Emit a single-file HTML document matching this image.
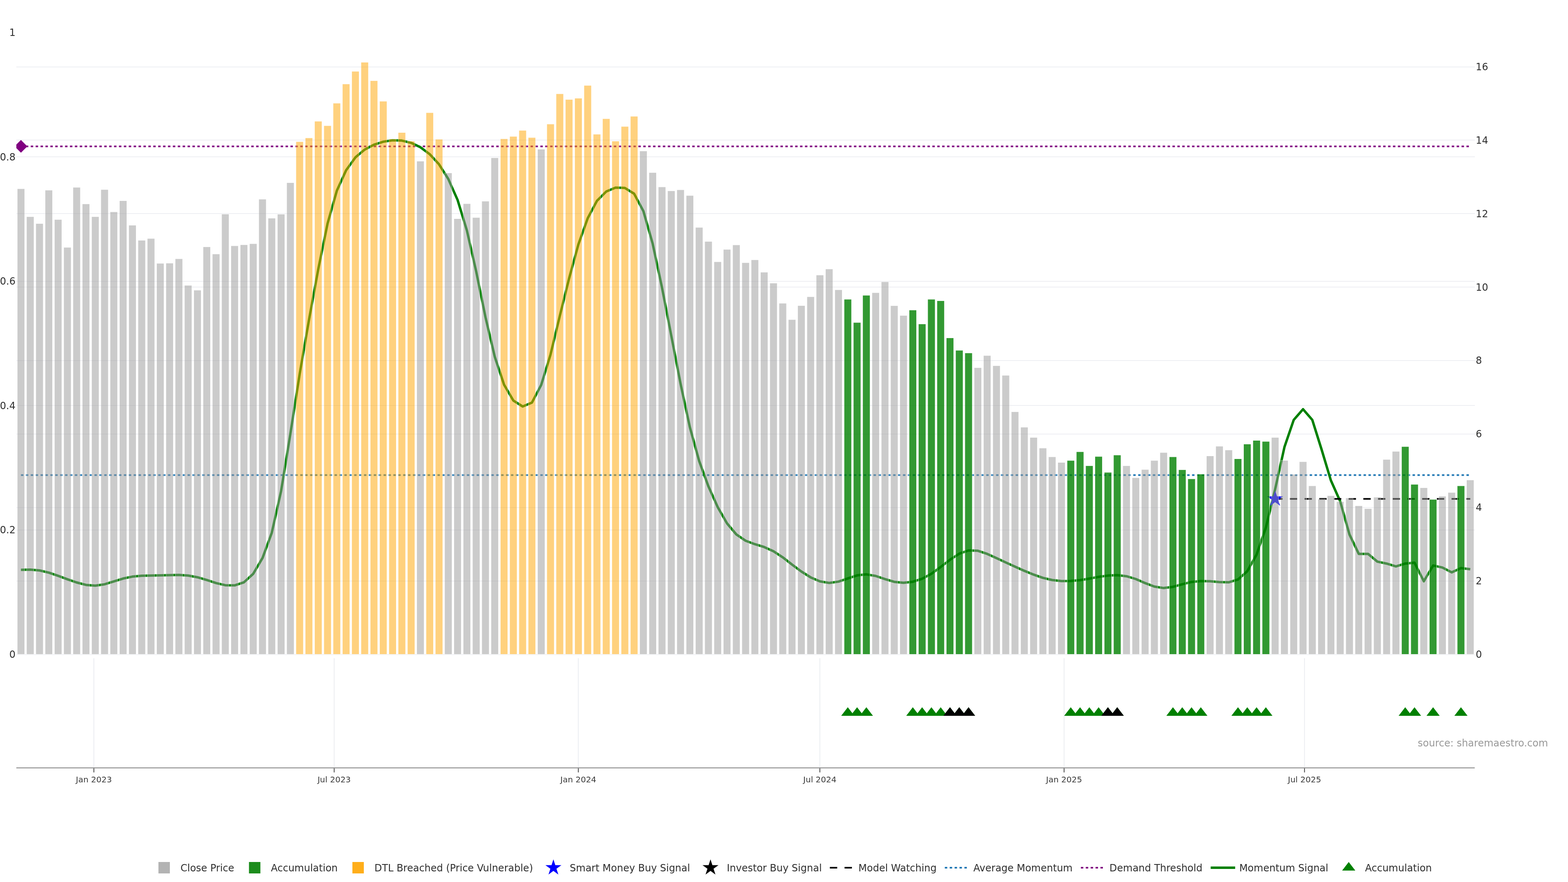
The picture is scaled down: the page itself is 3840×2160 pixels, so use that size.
<!DOCTYPE html>
<html lang="en"><head><meta charset="utf-8"><title>Momentum chart</title>
<style>html,body{margin:0;padding:0;background:#fff;}svg{display:block;width:3840px;height:2160px;}text{font-family:'DejaVu Sans','Liberation Sans',sans-serif;}</style></head><body>
<svg width="3840" height="2160" viewBox="0 0 3840 2160">
<rect width="3840" height="2160" fill="#fff"/>
<defs><clipPath id="cp"><rect x="40.0" y="70" width="3571.6" height="1534.0"/></clipPath></defs>
<g stroke="#eeeff3" stroke-width="2" fill="none" shape-rendering="crispEdges">
<path d="M40.0,1298H3611.6"/>
<path d="M40.0,993H3611.6"/>
<path d="M40.0,689H3611.6"/>
<path d="M40.0,384H3611.6"/>
<path d="M40.0,1423H3611.6"/>
<path d="M40.0,1243H3611.6"/>
<path d="M40.0,1063H3611.6"/>
<path d="M40.0,883H3611.6"/>
<path d="M40.0,703H3611.6"/>
<path d="M40.0,523H3611.6"/>
<path d="M40.0,343H3611.6"/>
<path d="M40.0,164H3611.6"/>
</g>
<path d="M40.0,1603.2H3611.6" stroke="#f1f2f6" stroke-width="2"/>
<g stroke="#ebedf1" stroke-width="2">
<path d="M229.9,1612.0V1880.6"/>
<path d="M818.4,1612.0V1880.6"/>
<path d="M1416.3,1612.0V1880.6"/>
<path d="M2007.8,1612.0V1880.6"/>
<path d="M2605.9,1612.0V1880.6"/>
<path d="M3194.7,1612.0V1880.6"/>
</g>
<g clip-path="url(#cp)" fill="none">
<path d="M51.3,1163.6H3600.6" stroke="#1f77b4" stroke-width="4" stroke-dasharray="6,6"/>
<path d="M51.3,358.4H3600.6" stroke="#800080" stroke-width="4" stroke-dasharray="6,6"/>
<polyline points="51.3,1395.4 74.1,1394.9 96.8,1397.0 119.6,1402.4 142.3,1410.2 165.1,1418.6 187.8,1426.5 210.6,1432.4 233.3,1434.3 256.1,1430.9 278.8,1423.9 301.6,1416.8 324.3,1412.1 347.1,1410.1 369.8,1409.6 392.6,1409.1 415.3,1408.4 438.1,1408.1 460.8,1409.5 483.6,1413.7 506.3,1420.3 529.1,1427.8 551.8,1433.2 574.6,1433.6 597.3,1426.1 620.1,1405.3 642.9,1366.6 665.6,1304.7 688.4,1202.6 711.1,1062.4 733.9,915.9 756.6,783.9 779.4,659.2 802.1,547.8 824.9,467.1 847.6,417.0 870.4,385.4 893.1,366.3 915.9,354.3 938.6,347.1 961.4,343.5 984.1,344.3 1006.9,349.8 1029.6,360.6 1052.4,377.6 1075.1,402.3 1097.9,438.4 1120.6,489.6 1143.4,564.4 1166.1,664.3 1188.9,776.6 1211.7,873.7 1234.4,942.0 1257.2,981.0 1279.9,995.4 1302.7,985.9 1325.4,942.6 1348.2,868.3 1370.9,773.9 1393.7,681.9 1416.4,598.7 1439.2,534.7 1461.9,491.9 1484.7,469.0 1507.4,459.6 1530.2,460.2 1552.9,474.4 1575.7,517.1 1598.4,596.8 1621.2,704.1 1643.9,821.7 1666.7,939.9 1689.4,1045.9 1712.2,1128.9 1734.9,1191.1 1757.7,1241.9 1780.5,1281.8 1803.2,1308.8 1826.0,1324.2 1848.7,1332.7 1871.5,1339.7 1894.2,1349.9 1917.0,1364.9 1939.7,1382.7 1962.5,1399.6 1985.2,1413.9 2008.0,1423.7 2030.7,1427.6 2053.5,1424.4 2076.2,1416.7 2099.0,1409.1 2121.7,1406.6 2144.5,1410.5 2167.2,1418.1 2190.0,1424.9 2212.7,1427.2 2235.5,1424.7 2258.2,1417.3 2281.0,1405.1 2303.7,1388.5 2326.5,1370.8 2349.3,1355.9 2372.0,1348.0 2394.8,1348.8 2417.5,1356.4 2440.3,1366.7 2463.0,1377.4 2485.8,1387.7 2508.5,1397.9 2531.3,1407.2 2554.0,1415.2 2576.8,1420.5 2599.5,1423.0 2622.3,1422.8 2645.0,1420.7 2667.8,1417.0 2690.5,1412.8 2713.3,1409.6 2736.0,1408.6 2758.8,1411.2 2781.5,1418.0 2804.3,1427.9 2827.0,1436.5 2849.8,1440.1 2872.5,1437.2 2895.3,1430.8 2918.1,1425.2 2940.8,1423.0 2963.6,1423.4 2986.3,1425.6 3009.1,1426.1 3031.8,1419.2 3054.6,1398.8 3077.3,1358.3 3100.1,1292.1 3122.8,1198.0 3145.6,1094.8 3168.3,1028.4 3191.1,1002.1 3213.8,1028.4 3236.6,1101.0 3259.3,1176.5 3282.1,1227.8 3304.8,1308.9 3327.6,1356.4 3350.3,1356.4 3373.1,1375.4 3395.8,1380.2 3418.6,1387.1 3441.3,1380.2 3464.1,1377.9 3486.9,1423.5 3509.6,1384.9 3532.4,1389.9 3555.1,1401.7 3577.9,1391.3 3600.6,1394.1" stroke="#008000" stroke-width="6" stroke-linejoin="round"/>
<path d="M66.9,358.4l-15.6,15.6l-15.6,-15.6l15.6,-15.6Z" fill="#800080"/>
<path d="M3122.8,1221.8H3600.6" stroke="#000" stroke-width="4" stroke-dasharray="18,18"/>
<path d="M3127.45,1215.45L3142.37,1215.45L3130.28,1224.23L3134.91,1238.43L3122.82,1229.65L3110.73,1238.43L3115.36,1224.23L3103.27,1215.45L3118.19,1215.45L3122.82,1201.24Z" fill="#0000ff"/>
</g>
<g fill="#999999" stroke="#fff" stroke-width="1" opacity="0.5">
<rect x="42.20" y="462.1" width="18.2" height="1140.4"/>
<rect x="64.95" y="530.6" width="18.2" height="1071.9"/>
<rect x="87.70" y="547.4" width="18.2" height="1055.1"/>
<rect x="110.46" y="465.7" width="18.2" height="1136.8"/>
<rect x="133.21" y="537.6" width="18.2" height="1064.9"/>
<rect x="155.96" y="605.8" width="18.2" height="996.7"/>
<rect x="178.71" y="458.8" width="18.2" height="1143.7"/>
<rect x="201.46" y="499.3" width="18.2" height="1103.2"/>
<rect x="224.22" y="530.6" width="18.2" height="1071.9"/>
<rect x="246.97" y="464.1" width="18.2" height="1138.4"/>
<rect x="269.72" y="518.8" width="18.2" height="1083.7"/>
<rect x="292.47" y="491.5" width="18.2" height="1111.0"/>
<rect x="315.22" y="551.5" width="18.2" height="1051.0"/>
<rect x="337.98" y="588.4" width="18.2" height="1014.1"/>
<rect x="360.73" y="584.0" width="18.2" height="1018.5"/>
<rect x="383.48" y="644.9" width="18.2" height="957.6"/>
<rect x="406.23" y="644.3" width="18.2" height="958.2"/>
<rect x="428.98" y="633.7" width="18.2" height="968.8"/>
<rect x="451.74" y="698.8" width="18.2" height="903.7"/>
<rect x="474.49" y="710.6" width="18.2" height="891.9"/>
<rect x="497.24" y="604.4" width="18.2" height="998.1"/>
<rect x="519.99" y="622.0" width="18.2" height="980.5"/>
<rect x="542.74" y="524.2" width="18.2" height="1078.3"/>
<rect x="565.50" y="601.9" width="18.2" height="1000.6"/>
<rect x="588.25" y="599.3" width="18.2" height="1003.2"/>
<rect x="611.00" y="596.8" width="18.2" height="1005.7"/>
<rect x="633.75" y="487.8" width="18.2" height="1114.7"/>
<rect x="656.50" y="534.2" width="18.2" height="1068.3"/>
<rect x="679.26" y="524.5" width="18.2" height="1078.0"/>
<rect x="702.01" y="447.3" width="18.2" height="1155.2"/>
<rect x="1020.54" y="394.7" width="18.2" height="1207.8"/>
<rect x="1088.79" y="423.5" width="18.2" height="1179.0"/>
<rect x="1111.54" y="535.5" width="18.2" height="1067.0"/>
<rect x="1134.30" y="498.8" width="18.2" height="1103.7"/>
<rect x="1157.05" y="532.7" width="18.2" height="1069.8"/>
<rect x="1179.80" y="492.7" width="18.2" height="1109.8"/>
<rect x="1202.55" y="386.3" width="18.2" height="1216.2"/>
<rect x="1316.31" y="365.3" width="18.2" height="1237.2"/>
<rect x="1566.58" y="369.8" width="18.2" height="1232.7"/>
<rect x="1589.34" y="422.6" width="18.2" height="1179.9"/>
<rect x="1612.09" y="457.8" width="18.2" height="1144.7"/>
<rect x="1634.84" y="467.3" width="18.2" height="1135.2"/>
<rect x="1657.59" y="464.8" width="18.2" height="1137.7"/>
<rect x="1680.34" y="478.8" width="18.2" height="1123.7"/>
<rect x="1703.10" y="556.9" width="18.2" height="1045.6"/>
<rect x="1725.85" y="591.2" width="18.2" height="1011.3"/>
<rect x="1748.60" y="641.0" width="18.2" height="961.5"/>
<rect x="1771.35" y="610.8" width="18.2" height="991.7"/>
<rect x="1794.10" y="599.8" width="18.2" height="1002.7"/>
<rect x="1816.86" y="643.2" width="18.2" height="959.3"/>
<rect x="1839.61" y="636.2" width="18.2" height="966.3"/>
<rect x="1862.36" y="666.6" width="18.2" height="935.9"/>
<rect x="1885.11" y="693.2" width="18.2" height="909.3"/>
<rect x="1907.86" y="742.7" width="18.2" height="859.8"/>
<rect x="1930.62" y="782.7" width="18.2" height="819.8"/>
<rect x="1953.37" y="748.3" width="18.2" height="854.2"/>
<rect x="1976.12" y="726.7" width="18.2" height="875.8"/>
<rect x="1998.87" y="673.6" width="18.2" height="928.9"/>
<rect x="2021.62" y="658.8" width="18.2" height="943.7"/>
<rect x="2044.38" y="709.7" width="18.2" height="892.8"/>
<rect x="2135.38" y="716.8" width="18.2" height="885.7"/>
<rect x="2158.14" y="690.0" width="18.2" height="912.5"/>
<rect x="2180.89" y="748.6" width="18.2" height="853.9"/>
<rect x="2203.64" y="772.6" width="18.2" height="829.9"/>
<rect x="2385.66" y="900.3" width="18.2" height="702.2"/>
<rect x="2408.41" y="870.7" width="18.2" height="731.8"/>
<rect x="2431.16" y="895.6" width="18.2" height="706.9"/>
<rect x="2453.91" y="919.1" width="18.2" height="683.4"/>
<rect x="2476.66" y="1008.3" width="18.2" height="594.2"/>
<rect x="2499.42" y="1046.1" width="18.2" height="556.4"/>
<rect x="2522.17" y="1071.2" width="18.2" height="531.3"/>
<rect x="2544.92" y="1097.2" width="18.2" height="505.3"/>
<rect x="2567.67" y="1118.8" width="18.2" height="483.7"/>
<rect x="2590.42" y="1132.4" width="18.2" height="470.1"/>
<rect x="2749.69" y="1140.6" width="18.2" height="461.9"/>
<rect x="2772.44" y="1169.9" width="18.2" height="432.6"/>
<rect x="2795.19" y="1149.8" width="18.2" height="452.7"/>
<rect x="2817.94" y="1127.7" width="18.2" height="474.8"/>
<rect x="2840.70" y="1108.1" width="18.2" height="494.4"/>
<rect x="2954.46" y="1116.5" width="18.2" height="486.0"/>
<rect x="2977.21" y="1092.8" width="18.2" height="509.7"/>
<rect x="2999.96" y="1102.0" width="18.2" height="500.5"/>
<rect x="3113.72" y="1071.2" width="18.2" height="531.3"/>
<rect x="3136.47" y="1127.5" width="18.2" height="475.0"/>
<rect x="3159.22" y="1161.5" width="18.2" height="441.0"/>
<rect x="3181.98" y="1130.7" width="18.2" height="471.8"/>
<rect x="3204.73" y="1189.8" width="18.2" height="412.7"/>
<rect x="3227.48" y="1222.2" width="18.2" height="380.3"/>
<rect x="3250.23" y="1213.9" width="18.2" height="388.6"/>
<rect x="3272.98" y="1228.5" width="18.2" height="374.0"/>
<rect x="3295.74" y="1219.3" width="18.2" height="383.2"/>
<rect x="3318.49" y="1238.6" width="18.2" height="363.9"/>
<rect x="3341.24" y="1245.6" width="18.2" height="356.9"/>
<rect x="3363.99" y="1217.7" width="18.2" height="384.8"/>
<rect x="3386.74" y="1125.1" width="18.2" height="477.4"/>
<rect x="3409.50" y="1105.3" width="18.2" height="497.2"/>
<rect x="3477.75" y="1194.4" width="18.2" height="408.1"/>
<rect x="3523.26" y="1215.1" width="18.2" height="387.4"/>
<rect x="3546.01" y="1206.0" width="18.2" height="396.5"/>
<rect x="3591.51" y="1175.5" width="18.2" height="427.0"/>
</g>
<g fill="#ffa500" stroke="#fff" stroke-width="1" opacity="0.5">
<rect x="724.76" y="346.9" width="18.2" height="1255.6"/>
<rect x="747.51" y="337.7" width="18.2" height="1264.8"/>
<rect x="770.26" y="296.9" width="18.2" height="1305.6"/>
<rect x="793.02" y="307.8" width="18.2" height="1294.7"/>
<rect x="815.77" y="252.7" width="18.2" height="1349.8"/>
<rect x="838.52" y="205.7" width="18.2" height="1396.8"/>
<rect x="861.27" y="174.7" width="18.2" height="1427.8"/>
<rect x="884.02" y="152.4" width="18.2" height="1450.1"/>
<rect x="906.78" y="197.6" width="18.2" height="1404.9"/>
<rect x="929.53" y="247.9" width="18.2" height="1354.6"/>
<rect x="952.28" y="340.5" width="18.2" height="1262.0"/>
<rect x="975.03" y="324.5" width="18.2" height="1278.0"/>
<rect x="997.78" y="345.5" width="18.2" height="1257.0"/>
<rect x="1043.29" y="275.9" width="18.2" height="1326.6"/>
<rect x="1066.04" y="341.0" width="18.2" height="1261.5"/>
<rect x="1225.30" y="339.9" width="18.2" height="1262.6"/>
<rect x="1248.06" y="334.0" width="18.2" height="1268.5"/>
<rect x="1270.81" y="319.2" width="18.2" height="1283.3"/>
<rect x="1293.56" y="336.8" width="18.2" height="1265.7"/>
<rect x="1339.06" y="303.8" width="18.2" height="1298.7"/>
<rect x="1361.82" y="229.7" width="18.2" height="1372.8"/>
<rect x="1384.57" y="243.6" width="18.2" height="1358.9"/>
<rect x="1407.32" y="240.4" width="18.2" height="1362.1"/>
<rect x="1430.07" y="209.1" width="18.2" height="1393.4"/>
<rect x="1452.82" y="328.7" width="18.2" height="1273.8"/>
<rect x="1475.58" y="290.7" width="18.2" height="1311.8"/>
<rect x="1498.33" y="345.5" width="18.2" height="1257.0"/>
<rect x="1521.08" y="309.7" width="18.2" height="1292.8"/>
<rect x="1543.83" y="284.8" width="18.2" height="1317.7"/>
</g>
<g fill="#008000" stroke="#fff" stroke-width="1" opacity="0.8">
<rect x="2067.13" y="732.9" width="18.2" height="869.6"/>
<rect x="2089.88" y="789.8" width="18.2" height="812.7"/>
<rect x="2112.63" y="723.1" width="18.2" height="879.4"/>
<rect x="2226.39" y="759.2" width="18.2" height="843.3"/>
<rect x="2249.14" y="793.3" width="18.2" height="809.2"/>
<rect x="2271.90" y="732.9" width="18.2" height="869.6"/>
<rect x="2294.65" y="736.5" width="18.2" height="866.0"/>
<rect x="2317.40" y="827.4" width="18.2" height="775.1"/>
<rect x="2340.15" y="857.9" width="18.2" height="744.6"/>
<rect x="2362.90" y="864.3" width="18.2" height="738.2"/>
<rect x="2613.18" y="1127.7" width="18.2" height="474.8"/>
<rect x="2635.93" y="1106.2" width="18.2" height="496.3"/>
<rect x="2658.68" y="1140.6" width="18.2" height="461.9"/>
<rect x="2681.43" y="1117.9" width="18.2" height="484.6"/>
<rect x="2704.18" y="1156.8" width="18.2" height="445.7"/>
<rect x="2726.94" y="1114.3" width="18.2" height="488.2"/>
<rect x="2863.45" y="1118.8" width="18.2" height="483.7"/>
<rect x="2886.20" y="1150.3" width="18.2" height="452.2"/>
<rect x="2908.95" y="1172.7" width="18.2" height="429.8"/>
<rect x="2931.70" y="1161.0" width="18.2" height="441.5"/>
<rect x="3022.71" y="1123.5" width="18.2" height="479.0"/>
<rect x="3045.46" y="1087.5" width="18.2" height="515.0"/>
<rect x="3068.22" y="1078.5" width="18.2" height="524.0"/>
<rect x="3090.97" y="1081.0" width="18.2" height="521.5"/>
<rect x="3432.25" y="1093.7" width="18.2" height="508.8"/>
<rect x="3455.00" y="1186.1" width="18.2" height="416.4"/>
<rect x="3500.50" y="1223.0" width="18.2" height="379.5"/>
<rect x="3568.76" y="1189.8" width="18.2" height="412.7"/>
</g>
<path d="M2060.06,1753.00H2092.39L2076.23,1732.00Z" fill="#008000"/>
<path d="M2082.81,1753.00H2115.15L2098.98,1732.00Z" fill="#008000"/>
<path d="M2105.57,1753.00H2137.90L2121.73,1732.00Z" fill="#008000"/>
<path d="M2219.33,1753.00H2251.66L2235.49,1732.00Z" fill="#008000"/>
<path d="M2242.08,1753.00H2274.41L2258.24,1732.00Z" fill="#008000"/>
<path d="M2264.83,1753.00H2297.16L2281.00,1732.00Z" fill="#008000"/>
<path d="M2287.58,1753.00H2319.91L2303.75,1732.00Z" fill="#008000"/>
<path d="M2310.33,1753.00H2342.67L2326.50,1732.00Z" fill="#008000"/>
<path d="M2333.09,1753.00H2365.42L2349.25,1732.00Z" fill="#008000"/>
<path d="M2355.84,1753.00H2388.17L2372.00,1732.00Z" fill="#008000"/>
<path d="M2606.11,1753.00H2638.44L2622.28,1732.00Z" fill="#008000"/>
<path d="M2628.86,1753.00H2661.19L2645.03,1732.00Z" fill="#008000"/>
<path d="M2651.61,1753.00H2683.95L2667.78,1732.00Z" fill="#008000"/>
<path d="M2674.37,1753.00H2706.70L2690.53,1732.00Z" fill="#008000"/>
<path d="M2697.12,1753.00H2729.45L2713.28,1732.00Z" fill="#008000"/>
<path d="M2719.87,1753.00H2752.20L2736.04,1732.00Z" fill="#008000"/>
<path d="M2856.38,1753.00H2888.71L2872.55,1732.00Z" fill="#008000"/>
<path d="M2879.13,1753.00H2911.47L2895.30,1732.00Z" fill="#008000"/>
<path d="M2901.89,1753.00H2934.22L2918.05,1732.00Z" fill="#008000"/>
<path d="M2924.64,1753.00H2956.97L2940.80,1732.00Z" fill="#008000"/>
<path d="M3015.65,1753.00H3047.98L3031.81,1732.00Z" fill="#008000"/>
<path d="M3038.40,1753.00H3070.73L3054.56,1732.00Z" fill="#008000"/>
<path d="M3061.15,1753.00H3093.48L3077.32,1732.00Z" fill="#008000"/>
<path d="M3083.90,1753.00H3116.23L3100.07,1732.00Z" fill="#008000"/>
<path d="M3425.18,1753.00H3457.51L3441.35,1732.00Z" fill="#008000"/>
<path d="M3447.93,1753.00H3480.27L3464.10,1732.00Z" fill="#008000"/>
<path d="M3493.44,1753.00H3525.77L3509.60,1732.00Z" fill="#008000"/>
<path d="M3561.69,1753.00H3594.03L3577.86,1732.00Z" fill="#008000"/>
<path d="M2310.33,1753.00H2342.67L2326.50,1732.00Z" fill="#000"/>
<path d="M2333.09,1753.00H2365.42L2349.25,1732.00Z" fill="#000"/>
<path d="M2355.84,1753.00H2388.17L2372.00,1732.00Z" fill="#000"/>
<path d="M2697.12,1753.00H2729.45L2713.28,1732.00Z" fill="#000"/>
<path d="M2719.87,1753.00H2752.20L2736.04,1732.00Z" fill="#000"/>
<path d="M40.0,1880.6H3611.6" stroke="#808080" stroke-width="2"/>
<g stroke="#444" stroke-width="2">
<path d="M229.9,1881.6v10"/>
<path d="M818.4,1881.6v10"/>
<path d="M1416.3,1881.6v10"/>
<path d="M2007.8,1881.6v10"/>
<path d="M2605.9,1881.6v10"/>
<path d="M3194.7,1881.6v10"/>
</g>
<g font-size="20" fill="#3a3a3a" text-anchor="middle">
<text x="229.9" y="1915.6">Jan 2023</text>
<text x="818.4" y="1915.6">Jul 2023</text>
<text x="1416.3" y="1915.6">Jan 2024</text>
<text x="2007.8" y="1915.6">Jul 2024</text>
<text x="2605.9" y="1915.6">Jan 2025</text>
<text x="3194.7" y="1915.6">Jul 2025</text>
</g>
<g font-size="24" fill="#2e2e2e" text-anchor="end">
<text x="38" y="1610.8">0</text>
<text x="38" y="1306.3">0.2</text>
<text x="38" y="1001.8">0.4</text>
<text x="38" y="697.2">0.6</text>
<text x="38" y="392.7">0.8</text>
<text x="38" y="88.2">1</text>
</g>
<g font-size="24" fill="#2e2e2e" text-anchor="start">
<text x="3614" y="1610.8">0</text>
<text x="3614" y="1430.9">2</text>
<text x="3614" y="1251.1">4</text>
<text x="3614" y="1071.2">6</text>
<text x="3614" y="891.4">8</text>
<text x="3614" y="711.5">10</text>
<text x="3614" y="531.6">12</text>
<text x="3614" y="351.8">14</text>
<text x="3614" y="171.9">16</text>
</g>
<text x="3791.2" y="1827.6" font-size="24" fill="#999" text-anchor="end">source: sharemaestro.com</text>
<g font-size="24" fill="#2e2e2e">
<rect x="388" y="2111" width="28" height="28" fill="#b3b3b3"/>
<text x="442.0" y="2133.8">Close Price</text>
<rect x="609.7" y="2111" width="28" height="28" fill="#1c8c1c"/>
<text x="663.5" y="2133.8">Accumulation</text>
<rect x="863" y="2111" width="28" height="28" fill="#ffae1a"/>
<text x="917.0" y="2133.8">DTL Breached (Price Vulnerable)</text>
<path d="M1359.93,2118.65L1374.85,2118.65L1362.76,2127.43L1367.39,2141.63L1355.30,2132.85L1343.21,2141.63L1347.84,2127.43L1335.75,2118.65L1350.67,2118.65L1355.30,2104.44Z" fill="#0000ff"/>
<text x="1395.3" y="2133.8">Smart Money Buy Signal</text>
<path d="M1744.63,2118.65L1759.55,2118.65L1747.46,2127.43L1752.09,2141.63L1740.00,2132.85L1727.91,2141.63L1732.54,2127.43L1720.45,2118.65L1735.37,2118.65L1740.00,2104.44Z" fill="#000"/>
<text x="1780.0" y="2133.8">Investor Buy Signal</text>
<path d="M2032.3,2125.0h60" stroke="#000" stroke-width="4" stroke-dasharray="18,18" fill="none"/>
<text x="2102.3" y="2133.8">Model Watching</text>
<path d="M2313.8,2125.0h60" stroke="#1f77b4" stroke-width="4" stroke-dasharray="6,6" fill="none"/>
<text x="2383.8" y="2133.8">Average Momentum</text>
<path d="M2647,2125.0h60" stroke="#800080" stroke-width="4" stroke-dasharray="6,6" fill="none"/>
<text x="2717.0" y="2133.8">Demand Threshold</text>
<path d="M2964.9,2125.0h60" stroke="#008000" stroke-width="6" fill="none"/>
<text x="3034.9" y="2133.8">Momentum Signal</text>
<path d="M3286.83,2132.00H3319.17L3303.00,2111.00Z" fill="#008000"/>
<text x="3343.0" y="2133.8">Accumulation</text>
</g>
</svg></body></html>
